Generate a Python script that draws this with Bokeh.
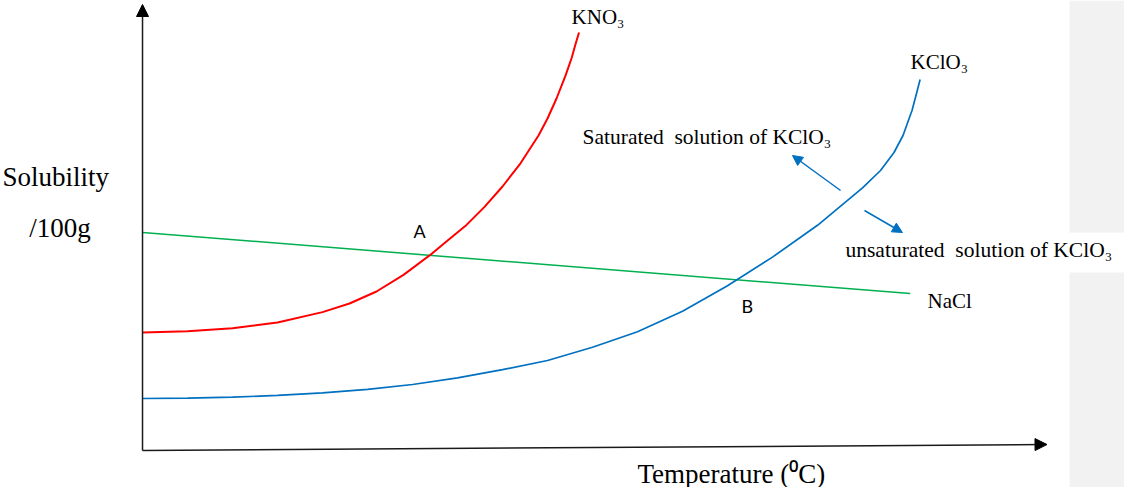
from bokeh.plotting import figure
from bokeh.models import Range1d, Label, Arrow, NormalHead, BoxAnnotation
from bokeh.embed import file_html
from bokeh.resources import INLINE

# ---- data (temperature units, solubility g/100g water; schematic) ----
temp_kno3 = [0, 5, 10, 15, 20, 23, 26, 29, 32, 34, 36, 38, 40, 42, 44, 45, 46, 47, 47.7, 48.1, 48.4, 48.5]
sol_kno3 = [29.5, 29.8, 30.55, 32, 34.6, 36.75, 39.75, 43.9, 48.95, 52.7, 56.4, 60.9, 66, 71.8, 78.75,
            83, 88, 93.7, 98.25, 101.5, 103.75, 104.5]

temp_kclo3 = [0, 5, 10, 15, 20, 25, 30, 35, 40, 45, 50, 55, 60, 65, 70, 75, 80, 82, 83.5, 84.5, 85.5,
              86, 86.2, 86.4]
sol_kclo3 = [13, 13.08, 13.34, 13.76, 14.4, 15.3, 16.5, 18.15, 20.2, 22.5, 25.8, 29.7, 34.8, 41.2, 48.35,
             56.3, 65.65, 70, 74.5, 78.75, 85, 89.25, 91, 92.75]

temp_nacl = [0, 85.3]
sol_nacl = [54.5, 39.25]

x_axis_end = 100.5
y_axis_end = 111.5

SERIF = "Liberation Serif"

p = figure(width=1124, height=487, output_backend="svg", toolbar_location=None,
           x_range=Range1d(-15.78, 109.11), y_range=Range1d(-9.25, 112.5),
           x_axis_location=None, y_axis_location=None, min_border=0,
           outline_line_color=None)
p.grid.visible = False
p.background_fill_color = "white"

# right-hand grey panel (document margin)
p.add_layout(BoxAnnotation(left=103, bottom=54.5, fill_color="#f2f2f2", fill_alpha=1, line_color=None))
p.add_layout(BoxAnnotation(left=103, top=44.5, fill_color="#f2f2f2", fill_alpha=1, line_color=None))

# axes with arrows
p.add_layout(Arrow(x_start=0, y_start=0, x_end=0, y_end=y_axis_end,
                   line_color="#1a1a1a", line_width=1.5,
                   end=NormalHead(size=12, fill_color="black", line_color="black")))
p.add_layout(Arrow(x_start=0, y_start=0, x_end=x_axis_end, y_end=1.5,
                   line_color="#1a1a1a", line_width=1.5,
                   end=NormalHead(size=12, fill_color="black", line_color="black")))

# curves
p.line(temp_nacl, sol_nacl, line_color="#00b050", line_width=1.5)
p.line(temp_kno3, sol_kno3, line_color="#ff0000", line_width=2)
p.line(temp_kclo3, sol_kclo3, line_color="#0070c0", line_width=1.7)

# annotation arrows
p.add_layout(Arrow(x_start=77.56, y_start=65, x_end=72.22, y_end=73.75,
                   line_color="#0070c0", line_width=1.5,
                   end=NormalHead(size=10, fill_color="#0070c0", line_color="#0070c0")))
p.add_layout(Arrow(x_start=80.22, y_start=60, x_end=84.44, y_end=54.5,
                   line_color="#0070c0", line_width=1.5,
                   end=NormalHead(size=10, fill_color="#0070c0", line_color="#0070c0")))

def lab(x, y, t, size, font=SERIF, align="left"):
    p.add_layout(Label(x=x, y=y, text=t, text_font=font, text_font_size=size,
                       text_color="black", text_align=align, text_baseline="alphabetic"))

NB = "\u00a0"
lab(47.67, 108.5, "KNO\u2083", "21px")
lab(85.33, 97.25, "KClO\u2083", "21px")
lab(48.89, 78.5, "Saturated " + NB + "solution of KClO\u2083", "21.5px")
lab(78.11, 50.25, "unsaturated " + NB + "solution of KClO\u2083", "21.5px")
lab(87.22, 37.5, "NaCl", "21px")
lab(30.78, 55, "A", "18px", font="Lato", align="center")
lab(67.2, 36.1, "B", "18px", font="Lato", align="center")
lab(-15.56, 68.3, "Solubility", "27px")
lab(-12.59, 55.6, "/100g", "27px")
lab(55, -5.75, "Temperature (\u2070C)", "27px")

open("out.html", "w").write(file_html(p, INLINE))
